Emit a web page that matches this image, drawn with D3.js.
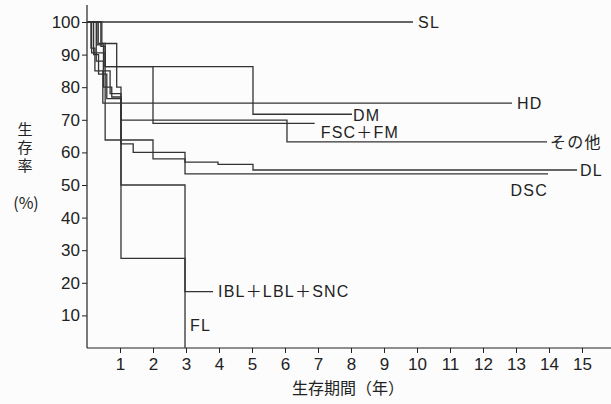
<!DOCTYPE html>
<meta charset="utf-8">
<title>生存率曲線</title>
<style>
body { margin: 0; background: #fcfcfc; }
svg { display: block; font-family: "Liberation Sans", "Noto Sans CJK JP", sans-serif; }
.axis text { font-size: 17px; fill: #222; }
.axis line { stroke: #222; }
.axis path { display: none; }
.frame { stroke: #222; stroke-width: 1.2px; }
.curve { fill: none; stroke: #333; stroke-width: 1.3px; }
.lbl { font-size: 16px; fill: #222; letter-spacing: 1.2px; }
.title { font-size: 16px; fill: #222; font-family: "Noto Sans CJK JP", sans-serif; }
.vtitle { font-size: 15px; fill: #222; font-family: "Noto Sans CJK JP", sans-serif;
  writing-mode: vertical-rl; letter-spacing: 3px; }
</style>
<body>
<svg id="chart" width="611" height="404"></svg>
<script src="https://d3js.org/d3.v7.min.js"></script>
<script>

// curve groups
var groups = ["SL", "HD", "DM", "FSC＋FM", "その他", "DL", "DSC", "IBL＋LBL＋SNC", "FL"];

// step times (years) and survival (%) for each group
var stepTimes = [
  [0],
  [0, 0.12, 0.24, 0.48],
  [0, 0.34, 0.55, 5.03],
  [0, 0.42, 0.55, 2.0],
  [0, 0.45, 0.9, 1.03, 6.06],
  [0, 0.3, 0.5, 0.7, 1.03, 1.4, 2.97, 3.97, 5.03],
  [0, 0.14, 0.55, 2.0, 2.97],
  [0, 0.28, 0.5, 0.75, 1.03, 2.97],
  [0, 0.2, 0.35, 0.6, 1.03, 2.97]
];
var stepSurv = [
  [100],
  [100, 92, 85, 75.1],
  [100, 93.4, 86.3, 71.7],
  [100, 92.5, 86.3, 68.9],
  [100, 93.4, 80, 69.9, 63.2],
  [100, 93, 85, 78, 62.6, 60, 57, 56.3, 54.6],
  [100, 90.5, 63.8, 58, 53.4],
  [100, 88, 80, 77, 27.5, 17.3],
  [100, 90, 84, 76.5, 50, 0]
];
// last follow-up time of each group
var endTimes = [9.88, 12.88, 8.03, 6.9, 13.94, 14.85, 13.97, 3.82, 2.97];

var xTicks = d3.range(1, 16);
var yTicks = [10, 20, 30, 40, 50, 60, 70, 80, 90, 100];

// label placement relative to the curve end: dx, dy, anchor
var labelPos = [
  [5, 0, "start"], [5, 0, "start"], [1, 1, "start"], [6, 9, "start"],
  [3, 0, "start"], [3, 0, "start"], [0, 16, "end"], [5, 0, "start"], [5, -23, "start"]
];

var svg = d3.select("#chart");
var x = d3.scaleLinear().domain([0, 15]).range([87, 582]);
var y = d3.scaleLinear().domain([0, 100]).range([348, 22]);

// frame
svg.append("line").attr("class", "frame")
  .attr("x1", x(0)).attr("x2", x(0)).attr("y1", 5).attr("y2", y(0));
svg.append("line").attr("class", "frame")
  .attr("x1", x(0)).attr("x2", 611).attr("y1", y(0)).attr("y2", y(0));

svg.append("g").attr("class", "axis")
  .attr("transform", "translate(0," + y(0) + ")")
  .call(d3.axisBottom(x).tickValues(xTicks).tickSize(5).tickPadding(5));

svg.append("g").attr("class", "axis")
  .attr("transform", "translate(" + x(0) + ",0)")
  .call(d3.axisLeft(y).tickValues(yTicks).tickSize(5).tickPadding(2));

// curves
var line = d3.line()
  .x(function(d) { return x(d[0]); })
  .y(function(d) { return y(d[1]); })
  .curve(d3.curveStepAfter);

groups.forEach(function(g, i) {
  var pts = stepTimes[i].map(function(t, j) { return [t, stepSurv[i][j]]; });
  var last = stepSurv[i][stepSurv[i].length - 1];
  pts.push([endTimes[i], last]);
  svg.append("path").attr("class", "curve").attr("d", line(pts));

  var lp = labelPos[i];
  svg.append("text").attr("class", "lbl")
    .attr("x", x(endTimes[i]) + lp[0])
    .attr("y", y(last) + lp[1])
    .attr("dy", "0.36em")
    .attr("text-anchor", lp[2])
    .text(g);
});

// y title, written vertically
svg.append("text").attr("class", "vtitle")
  .attr("x", 25).attr("y", 149)
  .attr("text-anchor", "middle").text("生存率");
svg.append("text").attr("class", "title")
  .attr("x", 26).attr("y", 203).attr("dy", "0.36em")
  .attr("text-anchor", "middle").text("(%)");

// x title
svg.append("text").attr("class", "title")
  .attr("x", 348).attr("y", 388).attr("dy", "0.36em")
  .attr("text-anchor", "middle").text("生存期間（年）");
</script>
</body>
